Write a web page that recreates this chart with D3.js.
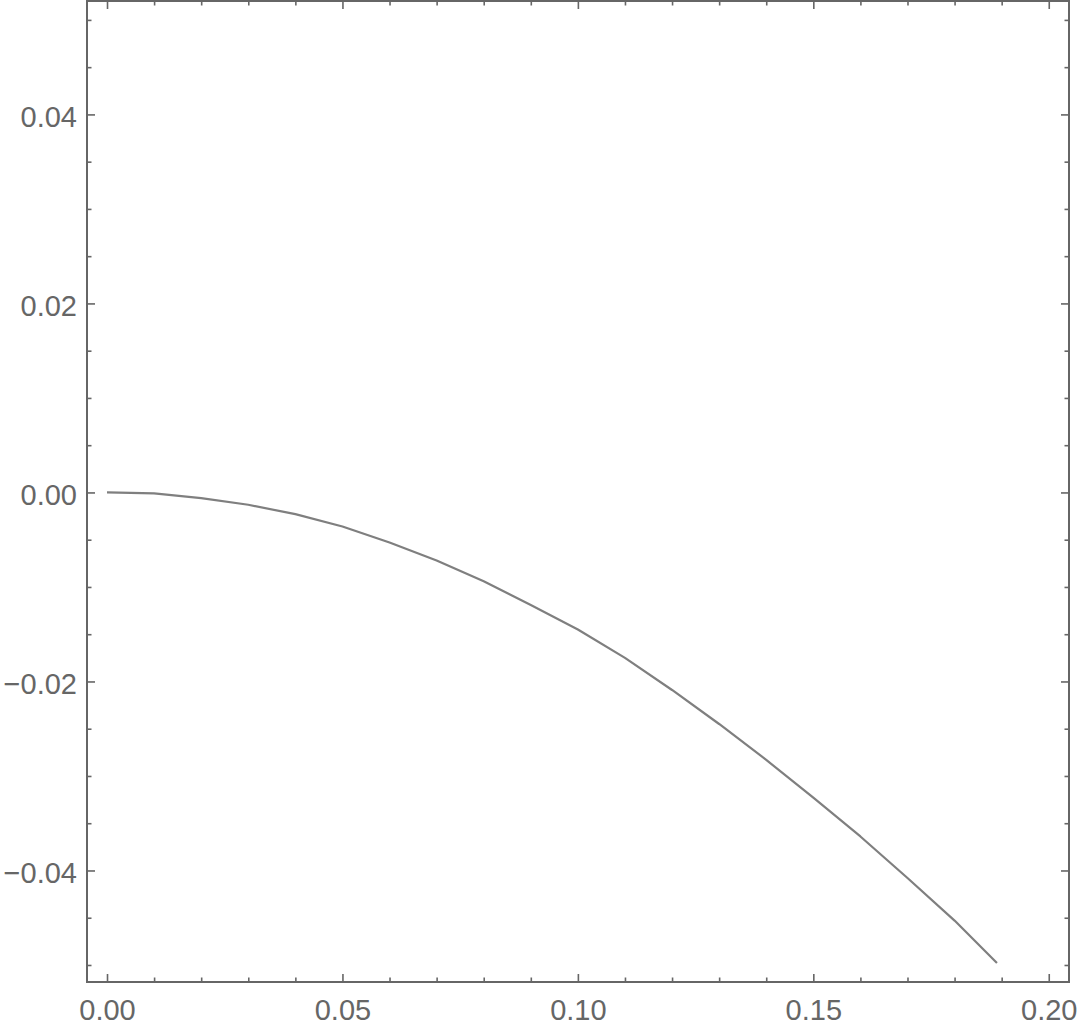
<!DOCTYPE html>
<html>
<head>
<meta charset="utf-8">
<script src="https://cdn.jsdelivr.net/npm/d3@7"></script>
<style>
  html, body { margin: 0; padding: 0; background: #fff; }
  svg { display: block; }
</style>
</head>
<body>
<script>
// ---- data ----
const xValues = [0, 0.01, 0.02, 0.03, 0.04, 0.05, 0.06, 0.07, 0.08, 0.09, 0.10,
                 0.11, 0.12, 0.13, 0.14, 0.15, 0.16, 0.17, 0.18, 0.189];
const yValues = [0, -0.0001, -0.0006, -0.0013, -0.0023, -0.0036, -0.0053, -0.0072,
                 -0.0094, -0.0119, -0.0145, -0.0175, -0.0209, -0.0245, -0.0283,
                 -0.0323, -0.0364, -0.0408, -0.0453, -0.0498];
const xMajorTicks = [0, 0.05, 0.10, 0.15, 0.20];
const yMajorTicks = [-0.04, -0.02, 0, 0.02, 0.04];
const xMinorTicks = d3.range(0, 21).map(i => i / 100).filter(v => Math.round(v * 100) % 5 !== 0);
const yMinorTicks = d3.range(-10, 11).map(i => i * 0.005).filter(v => Math.round(v * 1000) % 20 !== 0);
const xDomain = [-0.00425, 0.2043];
const yDomain = [-0.0518, 0.052];

// ---- layout ----
const W = 1080, H = 1028;
const L = 87, R = 1069, T = 1, B = 982;
const frameColor = "#666666";
const fontSize = 29;

const svg = d3.select("body").append("svg").attr("width", W).attr("height", H);

const x = d3.scaleLinear().domain(xDomain).range([L, R]);
const y = d3.scaleLinear().domain(yDomain).range([B, T]);
const fmt = d3.format(".2f");

function styleAxis(g) {
  g.select(".domain").remove();
  g.selectAll(".tick line").attr("stroke", frameColor).attr("stroke-width", 1.6);
  g.selectAll(".tick text").attr("fill", frameColor)
    .attr("font-family", "'Liberation Sans', Arial, Helvetica, sans-serif")
    .attr("font-size", fontSize);
}

// bottom
svg.append("g").attr("transform", `translate(0,${B})`)
  .call(d3.axisBottom(x).tickValues(xMajorTicks).tickFormat(fmt).tickSizeInner(-8).tickSizeOuter(0).tickPadding(17.4))
  .call(styleAxis);
svg.append("g").attr("transform", `translate(0,${B})`)
  .call(d3.axisBottom(x).tickValues(xMinorTicks).tickFormat("").tickSizeInner(-4.5).tickSizeOuter(0))
  .call(styleAxis);
// top
svg.append("g").attr("transform", `translate(0,${T})`)
  .call(d3.axisTop(x).tickValues(xMajorTicks).tickFormat("").tickSizeInner(-8).tickSizeOuter(0))
  .call(styleAxis);
svg.append("g").attr("transform", `translate(0,${T})`)
  .call(d3.axisTop(x).tickValues(xMinorTicks).tickFormat("").tickSizeInner(-4.5).tickSizeOuter(0))
  .call(styleAxis);
// left
const leftG = svg.append("g").attr("transform", `translate(${L},0)`)
  .call(d3.axisLeft(y).tickValues(yMajorTicks).tickFormat(fmt).tickSizeInner(-8).tickSizeOuter(0).tickPadding(10))
  .call(styleAxis);
leftG.selectAll(".tick text").attr("dy", "0.43em");
svg.append("g").attr("transform", `translate(${L},0)`)
  .call(d3.axisLeft(y).tickValues(yMinorTicks).tickFormat("").tickSizeInner(-4.5).tickSizeOuter(0))
  .call(styleAxis);
// right
svg.append("g").attr("transform", `translate(${R},0)`)
  .call(d3.axisRight(y).tickValues(yMajorTicks).tickFormat("").tickSizeInner(-8).tickSizeOuter(0))
  .call(styleAxis);
svg.append("g").attr("transform", `translate(${R},0)`)
  .call(d3.axisRight(y).tickValues(yMinorTicks).tickFormat("").tickSizeInner(-4.5).tickSizeOuter(0))
  .call(styleAxis);

// frame
svg.append("rect")
  .attr("x", L).attr("y", T).attr("width", R - L).attr("height", B - T)
  .attr("fill", "none").attr("stroke", frameColor).attr("stroke-width", 2);

// curve
const pts = xValues.map((v, i) => [v, yValues[i]]);
svg.append("path")
  .datum(pts)
  .attr("fill", "none")
  .attr("stroke", "#7f7f7f")
  .attr("stroke-width", 2.2)
  .attr("stroke-linejoin", "round")
  .attr("d", d3.line().x(d => x(d[0])).y(d => y(d[1])));
</script>
</body>
</html>
